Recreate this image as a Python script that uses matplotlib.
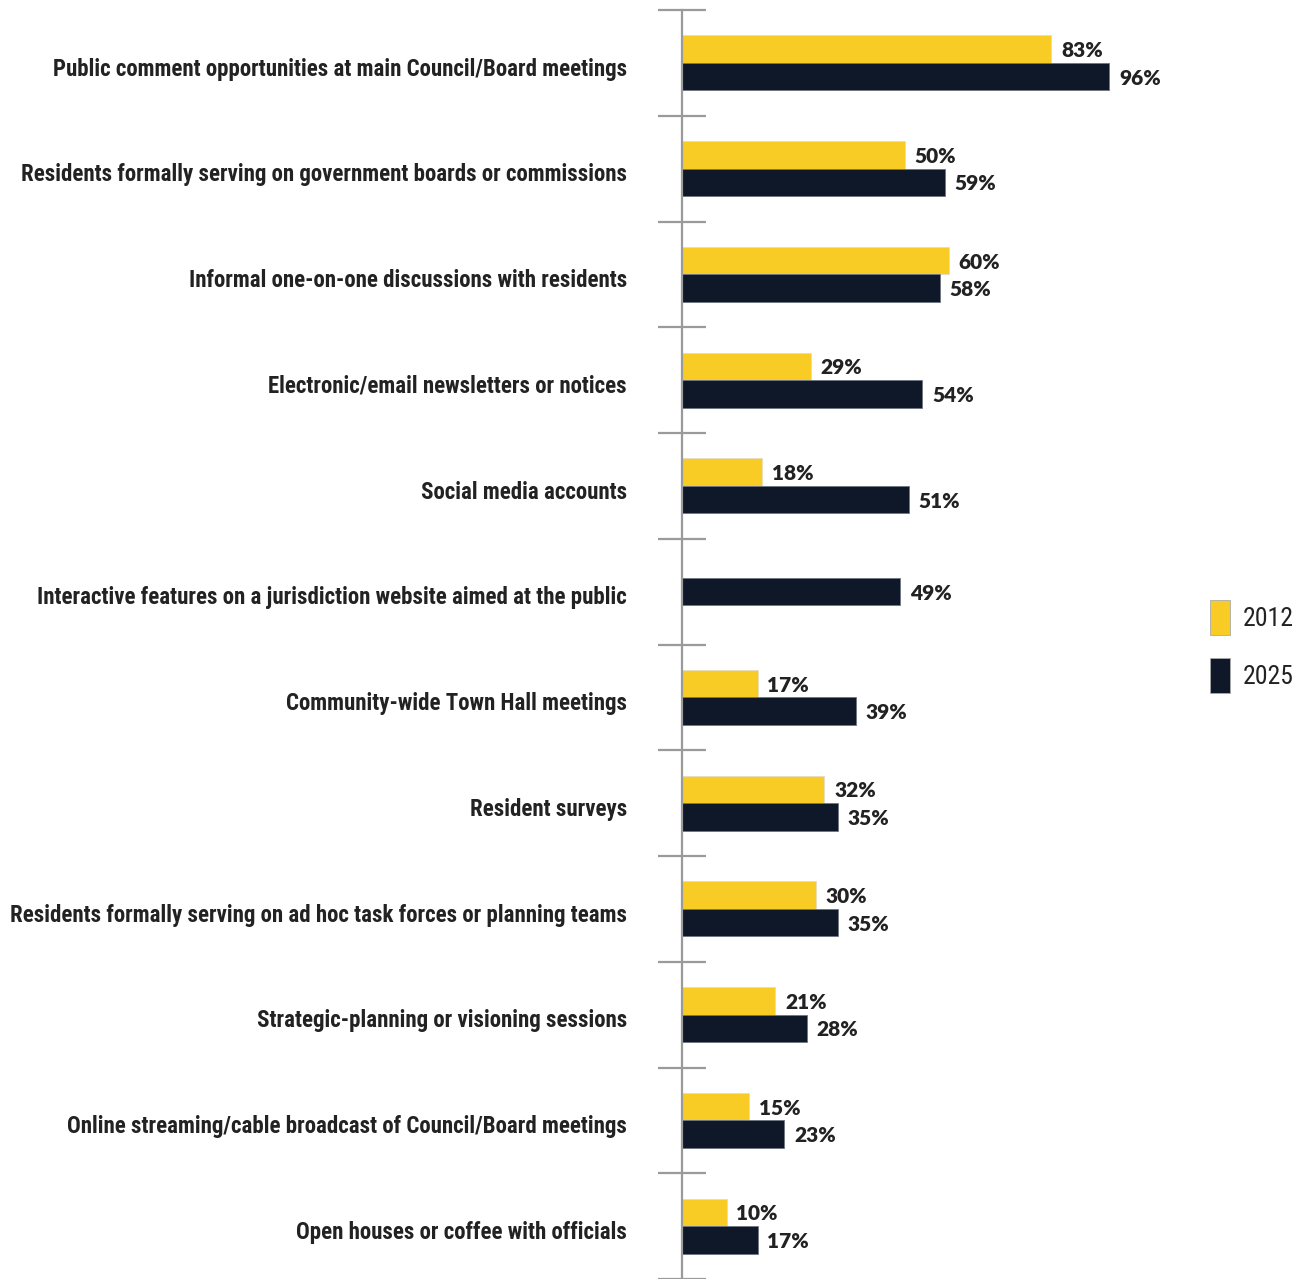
import matplotlib
matplotlib.use("Agg")
import matplotlib.pyplot as plt
from matplotlib.patches import Rectangle
from matplotlib import font_manager
import numpy as np

categories = [
    "Public comment opportunities at main Council/Board meetings",
    "Residents formally serving on government boards or commissions",
    "Informal one-on-one discussions with residents",
    "Electronic/email newsletters or notices",
    "Social media accounts",
    "Interactive features on a jurisdiction website aimed at the public",
    "Community-wide Town Hall meetings",
    "Resident surveys",
    "Residents formally serving on ad hoc task forces or planning teams",
    "Strategic-planning or visioning sessions",
    "Online streaming/cable broadcast of Council/Board meetings",
    "Open houses or coffee with officials",
]
v2012 = [83, 50, 60, 29, 18, None, 17, 32, 30, 21, 15, 10]
v2025 = [96, 59, 58, 54, 51, 49, 39, 35, 35, 28, 23, 17]
series_names = ["2012", "2025"]

YELLOW = "#F8CC25"
NAVY = "#0F1828"
TXT = "#222222"
GRID = "#9a9a9a"

names = {f.name for f in font_manager.fontManager.ttflist}
cond = [f for f in ["Roboto Condensed", "Liberation Sans Narrow", "DejaVu Sans Condensed"] if f in names]
label_family = cond + ["DejaVu Sans"]
val_family = ["Lato", "DejaVu Sans"]

W, H = 1309, 1279
fig = plt.figure(figsize=(W / 100, H / 100), dpi=100)
ax_left = 682 / W
ax_w = (1127 - 682) / W
ax_bottom = 0.0
ax_h = (1279 - 10) / H
ax = fig.add_axes([ax_left, ax_bottom, ax_w, ax_h])

n = len(categories)
y = np.arange(n)
bh = 0.26
VFS = 15
LFS = 16.5


def val_label(x, yy):
    ax.text(x + 2.2, yy + 0.015, f"{x}%", va="center", ha="left", fontsize=VFS,
            fontweight="heavy", family=val_family, color=TXT)


for i in range(n):
    a, b = v2012[i], v2025[i]
    if a is None:
        ax.barh(y[i], b, height=bh, color=NAVY, edgecolor="#6f7580", linewidth=0.6)
        val_label(b, y[i])
    else:
        ax.barh(y[i] - bh / 2, a, height=bh, color=YELLOW, edgecolor="#d8d8d8", linewidth=0.4)
        ax.barh(y[i] + bh / 2, b, height=bh, color=NAVY, edgecolor="#6f7580", linewidth=0.6)
        val_label(a, y[i] - bh / 2)
        val_label(b, y[i] + bh / 2)
    ax.text(-12.4, y[i] + 0.06, categories[i], va="center", ha="right", fontsize=LFS,
            family=label_family, fontweight="bold", color=TXT)

ax.set_xlim(0, 100)
ax.set_ylim(n - 0.5, -0.5)
ax.set_yticks(np.arange(n + 1) - 0.5)
ax.set_yticklabels([])
ax.set_xticks([])
for s in ["top", "right", "bottom"]:
    ax.spines[s].set_visible(False)
ax.spines["left"].set_color(GRID)
ax.spines["left"].set_linewidth(1.6)
ax.tick_params(axis="y", direction="inout", length=34, width=1.6, color=GRID)
ax.patch.set_alpha(0)

# legend
leg_colors = [YELLOW, NAVY]
leg_y = [600, 658]
for c, yy, nm in zip(leg_colors, leg_y, series_names):
    fig.add_artist(Rectangle((1210 / W, 1 - (yy + 35) / H), 20 / W, 35 / H,
                             transform=fig.transFigure, facecolor=c, edgecolor="#aaaaaa", linewidth=0.6))
    fig.text(1243 / W, 1 - (yy + 19) / H, nm, va="center", ha="left", fontsize=18.5,
             family=label_family, fontweight="normal", color=TXT)

fig.savefig("out.png", dpi=100)
